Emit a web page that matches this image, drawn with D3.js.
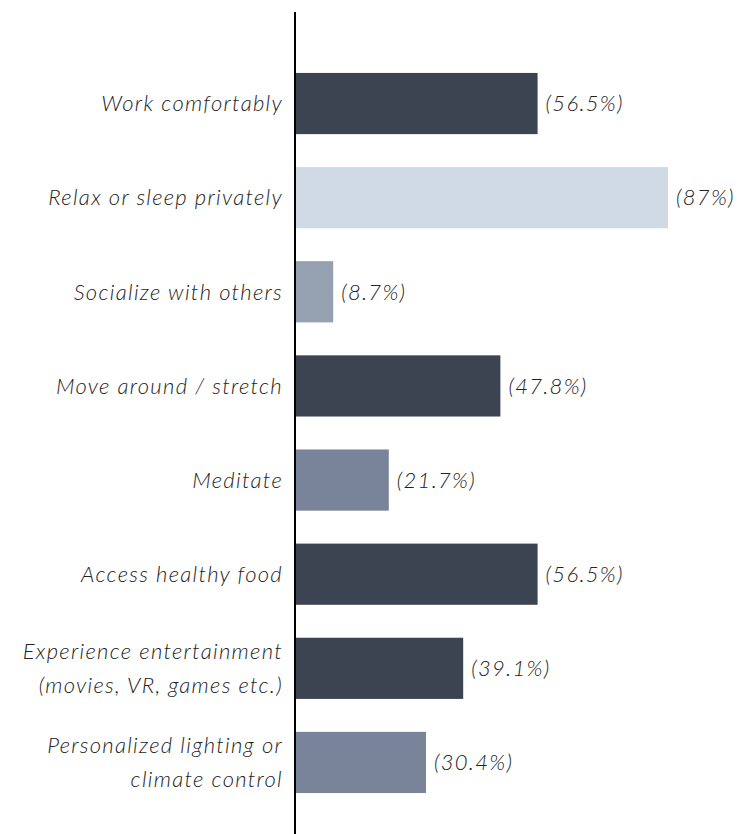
<!DOCTYPE html>
<html>
<head>
<meta charset="utf-8">
<script src="https://cdn.jsdelivr.net/npm/d3@7"></script>
<style>
  html, body { margin: 0; padding: 0; background: #fff; }
  svg { display: block; }
</style>
</head>
<body>
<main></main>
<script>
const width = 746;
const height = 834;
const axisX = 295;

// data
const categories = [
  'Work comfortably',
  'Relax or sleep privately',
  'Socialize with others',
  'Move around / stretch',
  'Meditate',
  'Access healthy food',
  'Experience entertainment\n(movies, VR, games etc.)',
  'Personalized lighting or\nclimate control'
];
const values = [56.5, 87, 8.7, 47.8, 21.7, 56.5, 39.1, 30.4];
const valueLabels = ['(56.5%)', '(87%)', '(8.7%)', '(47.8%)', '(21.7%)', '(56.5%)', '(39.1%)', '(30.4%)'];

const palette = ['#3d4451', '#d0dae5', '#95a0b0', '#3d4451', '#79839a', '#3d4451', '#3d4451', '#79839a'];

const dataset = categories.map((c, i) => ({ category: c, value: values[i], label: valueLabels[i] }));

const xScale = d3.scaleLinear()
  .domain([0, 87])
  .range([axisX + 1, 668]);

const yScale = d3.scaleBand()
  .domain(categories)
  .range([40, 826])
  .paddingInner(0.35)
  .paddingOuter(0.35);

const color = d3.scaleOrdinal()
  .domain(categories)
  .range(palette);

const font = 'Lato, sans-serif';

const svg = d3.select('main')
  .append('svg')
  .attr('width', width)
  .attr('height', height);

// Bars
svg.selectAll('.bar')
  .data(dataset)
  .enter()
  .append('rect')
  .attr('class', 'bar')
  .attr('x', xScale(0))
  .attr('y', d => yScale(d.category))
  .attr('width', d => xScale(d.value) - xScale(0))
  .attr('height', yScale.bandwidth())
  .style('fill', d => color(d.category))

// Value labels
svg.selectAll('.value')
  .data(dataset)
  .enter()
  .append('text')
  .attr('class', 'value')
  .attr('x', d => xScale(d.value) + 8)
  .attr('y', d => yScale(d.category) + yScale.bandwidth() / 2)
  .attr('dy', '0.35em')
  .text(d => d.label)
  .style('font-family', font)
  .style('font-style', 'italic')
  .style('font-weight', 300)
  .style('font-size', '22px')
  .style('letter-spacing', '1.3px')
  .style('fill', '#222')

// Category labels
const catLabels = svg.selectAll('.cat')
  .data(dataset)
  .enter()
  .append('text')
  .attr('class', 'cat')
  .attr('text-anchor', 'end')
  .attr('transform', d => `translate(${axisX - 12}, ${yScale(d.category) + yScale.bandwidth() / 2})`)
  .style('font-family', font)
  .style('font-style', 'italic')
  .style('font-weight', 300)
  .style('font-size', '22px')
  .style('letter-spacing', '1.3px')
  .style('fill', '#222')

catLabels.each(function (d) {
  const lines = d.category.split('\n')
  const lineH = 34
  const offset = -(lines.length - 1) * lineH / 2
  d3.select(this).selectAll('tspan')
    .data(lines)
    .enter()
    .append('tspan')
    .attr('x', 0)
    .attr('y', (l, i) => offset + i * lineH)
    .attr('dy', '0.35em')
    .text(l => l)
})

// Axis line
const yAxis = d3.axisLeft(yScale).tickSize(0).tickFormat('')
svg.append('g')
  .attr('transform', `translate(${axisX}, 0)`)
  .call(yAxis)
  .call(g => g.select('.domain')
    .attr('d', `M0,12V${height}`)
    .attr('stroke', '#000')
    .attr('stroke-width', 2))
</script>
</body>
</html>
